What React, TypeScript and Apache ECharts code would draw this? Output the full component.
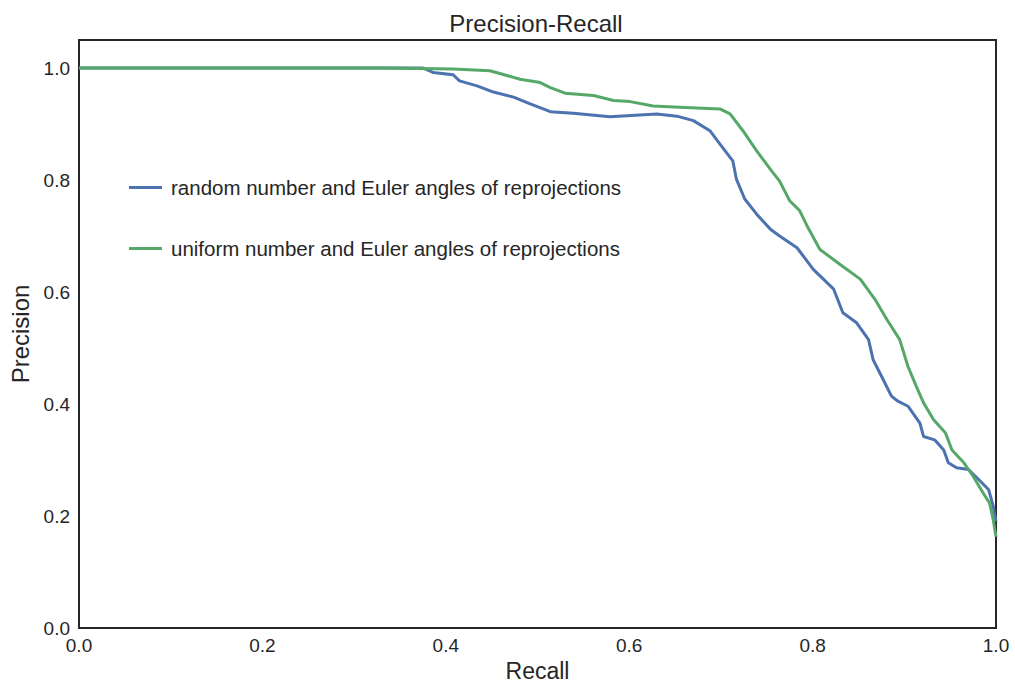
import React, { useEffect, useRef } from "react";
import * as echarts from "echarts";

const seriesNames = [
  "random number and Euler angles of reprojections",
  "uniform number and Euler angles of reprojections",
];

const randomRecall = [
  0, 0.375, 0.386, 0.408, 0.415, 0.434, 0.452, 0.474, 0.492, 0.514, 0.539, 0.579, 0.63, 0.652, 0.67,
  0.688, 0.699, 0.713, 0.717, 0.726, 0.739, 0.754, 0.764, 0.783, 0.801, 0.823, 0.833, 0.848, 0.861,
  0.866, 0.875, 0.886, 0.893, 0.904, 0.917, 0.921, 0.933, 0.943, 0.948, 0.957, 0.97, 0.983, 0.992,
  0.997, 1.0,
];
const randomPrecision = [
  1.0, 1.0, 0.992, 0.988, 0.977, 0.968, 0.957, 0.948, 0.936, 0.922, 0.919, 0.913, 0.918, 0.914, 0.906,
  0.888, 0.864, 0.834, 0.801, 0.766, 0.739, 0.712, 0.7, 0.679, 0.64, 0.605, 0.563, 0.545, 0.515,
  0.479, 0.45, 0.414, 0.405, 0.396, 0.366, 0.342, 0.336, 0.318, 0.295, 0.286, 0.283, 0.262, 0.247,
  0.217, 0.19,
];

const uniformRecall = [
  0, 0.328, 0.408, 0.448, 0.455, 0.481, 0.503, 0.514, 0.53, 0.561, 0.583, 0.601, 0.626, 0.655, 0.699,
  0.71, 0.724, 0.739, 0.754, 0.764, 0.775, 0.786, 0.794, 0.808, 0.83, 0.852, 0.868, 0.881, 0.895,
  0.904, 0.913, 0.921, 0.932, 0.945, 0.952, 0.965, 0.975, 0.986, 0.993, 0.997, 1.0,
];
const uniformPrecision = [
  1.0, 1.0, 0.998, 0.995, 0.992, 0.98, 0.974, 0.965, 0.955, 0.951, 0.942, 0.94, 0.932, 0.93, 0.927,
  0.918, 0.888, 0.852, 0.819, 0.798, 0.763, 0.745, 0.718, 0.676, 0.649, 0.623, 0.587, 0.551, 0.515,
  0.467, 0.432, 0.402, 0.372, 0.348, 0.318, 0.295, 0.271, 0.241, 0.223, 0.193, 0.163,
];

const FONT = "'Liberation Sans', Arial, Helvetica, sans-serif";
const TEXT = "#262626";

export default function App() {
  const ref = useRef<HTMLDivElement>(null);
  useEffect(() => {
    if (!ref.current) return;
    const chart = echarts.init(ref.current, undefined, { renderer: "svg" });
    const zip = (xs: number[], ys: number[]) => xs.map((x, i) => [x, ys[i]]);
    chart.setOption({
      animation: false,
      backgroundColor: "#ffffff",
      textStyle: { fontFamily: FONT },
      title: {
        text: "Precision-Recall",
        left: 531,
        textAlign: "center",
        top: 6,
        textStyle: { fontFamily: FONT, fontSize: 24, fontWeight: "normal", color: TEXT },
      },
      legend: {
        orient: "vertical",
        left: 124,
        top: 172,
        itemGap: 40,
        icon: "rect",
        itemWidth: 33,
        itemHeight: 3,
        textStyle: { fontFamily: FONT, fontSize: 20.5, color: TEXT, padding: [0, 0, 0, 4] },
        data: seriesNames,
      },
      grid: {
        left: 79,
        right: 19,
        top: 40,
        bottom: 55,
        show: true,
        borderColor: TEXT,
        borderWidth: 2,
        containLabel: false,
        outerBoundsMode: "none",
      },
      xAxis: {
        type: "value",
        min: 0,
        max: 1,
        interval: 0.2,
        name: "Recall",
        nameLocation: "middle",
        nameGap: 23,
        nameTextStyle: { fontFamily: FONT, fontSize: 23, color: TEXT },
        axisLine: { show: false },
        axisTick: { show: false },
        splitLine: { show: false },
        axisLabel: {
          fontFamily: FONT,
          fontSize: 19,
          color: TEXT,
          margin: 8,
          formatter: (v: number) => v.toFixed(1),
        },
      },
      yAxis: {
        type: "value",
        min: 0,
        max: 1.05,
        interval: 0.2,
        name: "Precision",
        nameLocation: "middle",
        nameGap: 46,
        nameTextStyle: { fontFamily: FONT, fontSize: 24, color: TEXT },
        axisLine: { show: false },
        axisTick: { show: false },
        splitLine: { show: false },
        axisLabel: {
          fontFamily: FONT,
          fontSize: 19,
          color: TEXT,
          margin: 9,
          showMaxLabel: false,
          formatter: (v: number) => (v > 1.01 ? "" : v.toFixed(1)),
        },
      },
      series: [
        {
          name: seriesNames[0],
          type: "line",
          data: zip(randomRecall, randomPrecision),
          showSymbol: false,
          lineStyle: { color: "#4C72B0", width: 3 },
          itemStyle: { color: "#4C72B0" },
        },
        {
          name: seriesNames[1],
          type: "line",
          data: zip(uniformRecall, uniformPrecision),
          showSymbol: false,
          lineStyle: { color: "#55A868", width: 3 },
          itemStyle: { color: "#55A868" },
        },
      ],
    });
    return () => chart.dispose();
  }, []);
  return <div ref={ref} style={{ width: 1015, height: 683, position: "absolute", left: 0, top: 0 }} />;
}
